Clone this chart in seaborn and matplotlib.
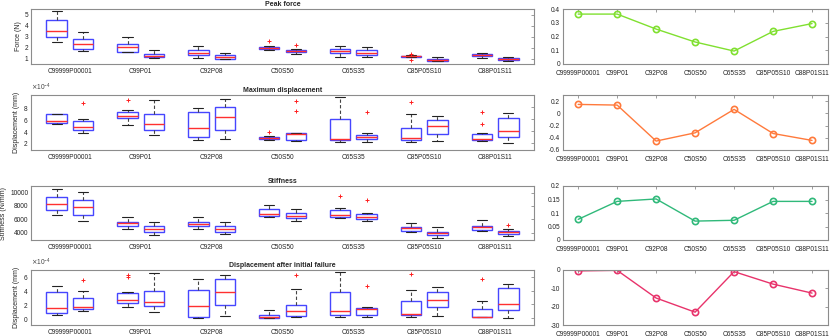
import numpy as np
import pandas as pd
import matplotlib
matplotlib.use("Agg")
import matplotlib.pyplot as plt
import seaborn as sns
from matplotlib.ticker import FuncFormatter


categories = ["C99999P00001", "C99P01", "C92P08", "C50S50",
              "C65S35", "C85P05S10", "C88P01S11"]

# box summaries per group: (low whisker, q1, median, q3, high whisker)
force_a = [(2.47, 2.96, 3.51, 4.51, 5.30), (1.55, 1.59, 2.04, 2.32, 2.99),
           (1.04, 1.31, 1.52, 1.74, 2.10), (1.78, 1.86, 1.97, 2.08, 2.12),
           (1.13, 1.49, 1.68, 1.86, 2.10), (1.10, 1.14, 1.19, 1.24, 1.32),
           (1.04, 1.19, 1.31, 1.40, 1.49)]
force_b = [(1.71, 1.86, 2.35, 2.74, 3.38), (1.07, 1.13, 1.25, 1.43, 1.74),
           (0.98, 1.00, 1.10, 1.28, 1.49), (1.43, 1.55, 1.68, 1.80, 1.86),
           (1.16, 1.28, 1.52, 1.74, 2.01), (0.73, 0.76, 0.85, 0.94, 1.13),
           (0.76, 0.82, 0.94, 1.04, 1.13)]
force_fl_a = [[], [], [], [2.56], [], [1.44, 0.86], []]
force_fl_b = [[], [], [], [2.22], [], [], []]

# displacement values in units of 1e-4 mm
maxdisp_a = [(5.22, 5.45, 5.62, 6.87, 6.92), (5.00, 6.13, 6.47, 7.26, 7.60),
             (2.45, 3.01, 4.60, 7.15, 7.94), (2.50, 2.60, 2.75, 3.00, 3.15),
             (2.16, 2.45, 2.73, 5.96, 9.70), (2.11, 2.56, 2.84, 4.54, 6.92),
             (2.39, 2.56, 2.73, 3.58, 3.69)]
maxdisp_b = [(3.75, 4.15, 4.77, 5.62, 6.07), (3.41, 4.15, 5.17, 6.81, 9.19),
             (2.73, 4.15, 6.36, 8.00, 9.36), (2.35, 2.45, 3.45, 3.60, 3.60),
             (2.22, 2.73, 3.01, 3.41, 3.69), (2.39, 3.58, 4.83, 5.85, 6.47),
             (2.05, 3.07, 3.98, 6.24, 7.09)]
maxdisp_fl_a = [[], [9.25], [], [3.85], [], [8.90], [5.22, 7.26]]
maxdisp_fl_b = [[8.68], [], [], [7.32, 9.08], [7.26], [], []]

stiff_a = [(6610, 7445, 8230, 9410, 10590), (4595, 4990, 5480, 5675, 6413),
           (4595, 4990, 5230, 5675, 6413), (6413, 6510, 6855, 7490, 8180),
           (6170, 6413, 6660, 7350, 7640), (4150, 4250, 4690, 4890, 5480),
           (4250, 4400, 4890, 5035, 5870)]
stiff_b = [(5725, 6610, 7790, 8970, 10150), (3660, 4150, 4595, 4990, 5675),
           (3810, 4100, 4500, 4990, 5530), (5820, 6215, 6560, 6900, 7590),
           (5725, 6020, 6315, 6760, 7000), (3265, 3660, 3955, 4150, 4840),
           (3560, 3850, 4055, 4300, 4595)]
stiff_fl_a = [[], [], [], [], [9460], [], []]
stiff_fl_b = [[], [], [], [], [8920], [], [5085]]

after_a = [(0.44, 0.79, 1.52, 3.73, 4.72), (1.67, 2.16, 2.70, 3.59, 3.83),
           (0.05, 0.20, 1.77, 4.03, 5.70), (0.00, 0.05, 0.15, 0.49, 1.13),
           (0.10, 0.39, 0.98, 3.78, 6.68), (0.20, 0.39, 0.64, 2.46, 4.13),
           (0.10, 0.10, 0.20, 1.38, 2.51)]
after_b = [(1.03, 1.38, 1.62, 3.00, 3.98), (0.84, 1.72, 2.36, 3.88, 6.54),
           (0.34, 1.92, 3.73, 5.65, 6.29), (0.10, 0.29, 0.98, 1.92, 4.30),
           (0.10, 0.44, 1.28, 1.52, 1.67), (0.25, 1.57, 2.70, 3.78, 4.52),
           (0.05, 1.23, 2.11, 4.32, 4.96)]
after_fl_a = [[], [5.95, 6.34], [], [], [], [6.44], [5.65]]
after_fl_b = [[5.60], [], [], [6.29], [4.62], [], []]

# right column line values
peak_line = [0.363, 0.363, 0.254, 0.160, 0.094, 0.237, 0.294]
maxdisp_line = [0.146, 0.135, -0.454, -0.319, 0.065, -0.330, -0.443]
stiff_line = [0.0765, 0.143, 0.152, 0.070, 0.073, 0.143, 0.143]
after_line = [-0.5, -0.2, -15.3, -23.0, -0.9, -7.7, -12.6]


def box_sample(five, fliers):
    # 13 points so that numpy's quartiles land on indices 3, 6, 9
    lo, q1, med, q3, hi = five
    vals = [lo] * 3 + [q1] * 3 + [med] * 3 + [q3] + [hi] * 3
    low = sorted(f for f in fliers if f < lo)
    high = sorted(f for f in fliers if f > hi)
    for i, f in enumerate(low):
        vals[i] = f
    for i, f in enumerate(high[::-1]):
        vals[12 - i] = f
    return vals


def long_table(set_a, set_b, fl_a, fl_b, scale=1.0):
    rows = []
    for k, cat in enumerate(categories):
        for name, five, fl in (("A", set_a[k], fl_a[k]), ("B", set_b[k], fl_b[k])):
            for v in box_sample(five, fl):
                rows.append((cat, name, v * scale))
    return pd.DataFrame(rows, columns=["group", "set", "value"])


sns.set_theme(style="white")
plt.rcParams["font.family"] = ["Liberation Sans", "DejaVu Sans"]
plt.rcParams["axes.unicode_minus"] = False

FS_TICK = 4.7
FS_LABEL = 5
FS_TITLE = 5
SPINE = "#8c8c8c"

fig = plt.figure(figsize=(8.31, 3.36), dpi=100)

rows_px = [(9, 64), (95, 150), (186, 240), (270, 325)]
left_x, left_w = 31 / 831, (534 - 31) / 831
right_x, right_w = 563 / 831, (828 - 563) / 831

panels = [
    dict(title="Peak force", ylabel="Force (N)",
         df=long_table(force_a, force_b, force_fl_a, force_fl_b),
         ylim=(0.5, 5.5), yticks=[1, 2, 3, 4, 5], sci=False,
         line=peak_line, color="#80e030", rlim=(0, 0.4),
         rticks=[0, 0.1, 0.2, 0.3, 0.4]),
    dict(title="Maximum displacement", ylabel="Displacement (mm)",
         df=long_table(maxdisp_a, maxdisp_b, maxdisp_fl_a, maxdisp_fl_b, 1e-4),
         ylim=(0.8e-4, 10.1e-4), yticks=[2e-4, 4e-4, 6e-4, 8e-4], sci=True,
         line=maxdisp_line, color="#ff7a3c", rlim=(-0.6, 0.3),
         rticks=[-0.6, -0.4, -0.2, 0, 0.2]),
    dict(title="Stiffness", ylabel="Stiffness (N/mm)",
         df=long_table(stiff_a, stiff_b, stiff_fl_a, stiff_fl_b),
         ylim=(2900, 11000), yticks=[4000, 6000, 8000, 10000], sci=False,
         line=stiff_line, color="#30b97a", rlim=(0, 0.2),
         rticks=[0, 0.05, 0.1, 0.15, 0.2]),
    dict(title="Displacement after initial failure", ylabel="Displacement (mm)",
         df=long_table(after_a, after_b, after_fl_a, after_fl_b, 1e-4),
         ylim=(-1e-4, 7e-4), yticks=[0, 2e-4, 4e-4, 6e-4], sci=True,
         line=after_line, color="#e8336b", rlim=(-30, 0),
         rticks=[-30, -20, -10, 0]),
]


def style_axes(ax):
    for sp in ax.spines.values():
        sp.set_color(SPINE)
        sp.set_linewidth(0.8)
        sp.set_visible(True)
    ax.tick_params(labelsize=FS_TICK, labelcolor="#222222", direction="in",
                   length=2.5, width=0.6, pad=2, color=SPINE)


for (top, bottom), p in zip(rows_px, panels):
    b = 1 - bottom / 336
    h = (bottom - top) / 336

    # left: boxplots
    ax = fig.add_axes([left_x, b, left_w, h])
    sns.boxplot(data=p["df"], x="group", y="value", hue="set", order=categories,
                palette={"A": "white", "B": "white"}, linecolor="#4646ff",
                width=0.75, gap=0.23, linewidth=1.0, whis=1.5, legend=False,
                ax=ax,
                medianprops=dict(color="#ff3030", linewidth=1.0),
                whiskerprops=dict(color="#444444", linestyle=(0, (3, 2)),
                                  linewidth=0.8),
                capprops=dict(color="#222222", linewidth=0.8),
                flierprops=dict(marker="+", markeredgecolor="#ff2020",
                                markersize=3.5, markeredgewidth=0.7))
    style_axes(ax)
    ax.set_xlim(-0.55, 6.55)
    ax.set_ylim(*p["ylim"])
    ax.set_yticks(p["yticks"])
    ax.tick_params(axis="x", length=0, pad=3)
    ax.tick_params(axis="y", right=True)
    ax.set_xlabel("")
    ax.set_ylabel(p["ylabel"], fontsize=FS_LABEL, labelpad=2)
    ax.set_title(p["title"], fontsize=FS_TITLE, fontweight="bold", pad=2)
    if p["sci"]:
        ax.ticklabel_format(axis="y", style="sci", scilimits=(0, 0),
                            useMathText=True)
        ax.yaxis.get_offset_text().set_fontsize(FS_TICK)
        ax.yaxis.get_offset_text().set_color("#444444")

    # right: line of coefficients
    rax = fig.add_axes([right_x, b, right_w, h])
    sns.lineplot(x=categories, y=p["line"], sort=False, color=p["color"],
                 linewidth=1.0, marker="o", markersize=4.5,
                 markerfacecolor="none", markeredgecolor=p["color"],
                 markeredgewidth=1.2, ax=rax)
    style_axes(rax)
    rax.tick_params(top=True, right=True)
    rax.tick_params(axis="x", pad=4)
    rax.set_xlim(-0.39, 6.41)
    rax.set_ylim(*p["rlim"])
    rax.set_yticks(p["rticks"])
    rax.yaxis.set_major_formatter(FuncFormatter(lambda v, _: "%g" % v))

fig.savefig("out.png", dpi=100)
